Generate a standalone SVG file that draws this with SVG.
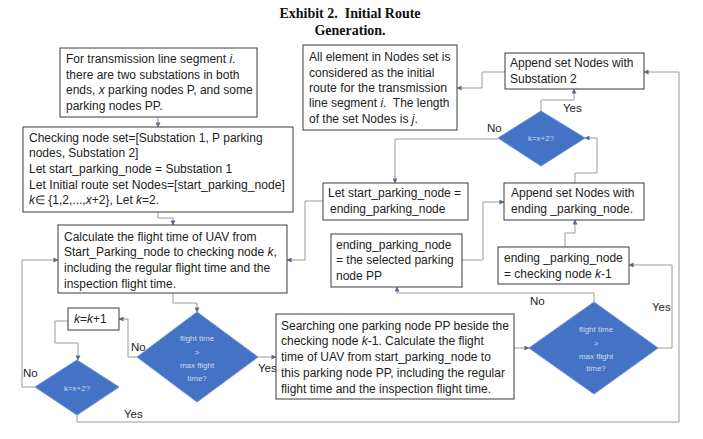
<svg xmlns="http://www.w3.org/2000/svg" width="703" height="439" viewBox="0 0 703 439">
<defs>
<marker id="ah" viewBox="0 0 6 6" refX="5.5" refY="3" markerWidth="5" markerHeight="5" orient="auto" markerUnits="userSpaceOnUse">
<path d="M0,0 L6,3 L0,6 z" fill="#5a6a8a"/>
</marker>
<style>
.box{fill:#fff;stroke:#3a3a3a;stroke-width:1}
.dia{fill:#4472c4;stroke:#6a8fd6;stroke-width:1}
.t{font-family:"Liberation Sans",Arial,sans-serif;font-size:12px;fill:#222}
.dt{font-family:"Liberation Sans",Arial,sans-serif;font-size:8px;fill:#cdd9f3;text-anchor:middle}
.lb{font-family:"Liberation Sans",Arial,sans-serif;font-size:11.5px;fill:#222}
.c{fill:none;stroke:#9a9a9a;stroke-width:1;marker-end:url(#ah)}
.title{font-family:"Liberation Serif","Times New Roman",serif;font-size:14px;font-weight:bold;fill:#111;text-anchor:middle}
</style>
</defs>
<rect width="703" height="439" fill="#fff"/>
<g id="title">
<text class="title" x="350" y="18">Exhibit 2.&#160; Initial Route</text>
<text class="title" x="350" y="35">Generation.</text>
</g>
<g id="connectors">
<path class="c" d="M158,117 V127"/>
<path class="c" d="M158,212 V218 H173 V225"/>
<path class="c" d="M173,293 V303 H197 V312"/>
<path class="c" d="M258,357 H276"/>
<path class="c" d="M137,357 H128 V319 H119"/>
<path class="c" d="M68,321 H55 V343 H78 V360"/>
<path class="c" d="M35,387 H22 V260 H58"/>
<path class="c" d="M77,415 V422 H679 V72 H644"/>
<path class="c" d="M514,348 H529"/>
<path class="c" d="M594,302 V293 H397 V287"/>
<path class="c" d="M658,348 H672 V265 H629"/>
<path class="c" d="M565,247 V233 H575 V220"/>
<path class="c" d="M462,260 H483 V202 H504"/>
<path class="c" d="M575,183 V173 H597 V138 H585"/>
<path class="c" d="M541,111 V100 H574 V89"/>
<path class="c" d="M498,139 H395 V183"/>
<path class="c" d="M505,72 H482 V88 H457"/>
<path class="c" d="M323,201 H305 V260 H287"/>
</g>
<g id="labels">
<text class="lb" x="487" y="132">No</text>
<text class="lb" x="563" y="112">Yes</text>
<text class="lb" x="131" y="351">No</text>
<text class="lb" x="23" y="377">No</text>
<text class="lb" x="124" y="418">Yes</text>
<text class="lb" x="258" y="372">Yes</text>
<text class="lb" x="530" y="305">No</text>
<text class="lb" x="652" y="311">Yes</text>
</g>
<g id="nodeA">
<rect class="box" x="60" y="48" width="197" height="69"/>
<text class="t" x="66" y="63">For transmission line segment <tspan font-style="italic">i</tspan>.</text>
<text class="t" x="66" y="79">there are two substations in both</text>
<text class="t" x="66" y="94">ends, <tspan font-style="italic">x</tspan> parking nodes P, and some</text>
<text class="t" x="66" y="110">parking nodes PP.</text>
</g>
<g id="nodeB">
<rect class="box" x="23" y="127" width="270" height="85"/>
<text class="t" x="29" y="142">Checking node set=[Substation 1, P parking</text>
<text class="t" x="29" y="157">nodes, Substation 2]</text>
<text class="t" x="29" y="173">Let start_parking_node = Substation 1</text>
<text class="t" x="29" y="189" textLength="256" lengthAdjust="spacingAndGlyphs">Let Initial route set Nodes=[start_parking_node]</text>
<text class="t" x="29" y="204"><tspan font-style="italic">k</tspan>∈ {1,2,...,<tspan font-style="italic">x</tspan>+2}, Let <tspan font-style="italic">k</tspan>=2.</text>
</g>
<g id="nodeC">
<rect class="box" x="303" y="45" width="154" height="85"/>
<text class="t" x="309" y="61">All element in Nodes set is</text>
<text class="t" x="309" y="77">considered as the initial</text>
<text class="t" x="309" y="92" textLength="138" lengthAdjust="spacingAndGlyphs">route for the transmission</text>
<text class="t" x="309" y="107">line segment <tspan font-style="italic">i</tspan>.&#160; The length</text>
<text class="t" x="309" y="123">of the set Nodes is <tspan font-style="italic">j</tspan>.</text>
</g>
<g id="nodeD">
<rect class="box" x="505" y="53" width="139" height="36"/>
<text class="t" x="510" y="67">Append set Nodes with</text>
<text class="t" x="510" y="83">Substation 2</text>
</g>
<g id="nodeE">
<polygon class="dia" points="541,111 585,138 541,166 498,138"/>
<text class="dt" x="541" y="141">k=x+2?</text>
</g>
<g id="nodeF">
<rect class="box" x="323" y="183" width="145" height="37"/>
<text class="t" x="328" y="197">Let start_parking_node =</text>
<text class="t" x="330" y="213">ending_parking_node</text>
</g>
<g id="nodeG">
<rect class="box" x="504" y="183" width="140" height="37"/>
<text class="t" x="511" y="197">Append set Nodes with</text>
<text class="t" x="511" y="213">ending _parking_node.</text>
</g>
<g id="nodeH">
<rect class="box" x="331" y="234" width="131" height="53"/>
<text class="t" x="336" y="249">ending_parking_node</text>
<text class="t" x="336" y="264">= the selected parking</text>
<text class="t" x="336" y="280">node PP</text>
</g>
<g id="nodeI">
<rect class="box" x="498" y="247" width="131" height="37"/>
<text class="t" x="504" y="262">ending _parking_node</text>
<text class="t" x="504" y="278">= checking node <tspan font-style="italic">k</tspan>-1</text>
</g>
<g id="nodeJ">
<rect class="box" x="58" y="225" width="229" height="68"/>
<text class="t" x="64" y="241">Calculate the flight time of UAV from</text>
<text class="t" x="64" y="256">Start_Parking_node to checking node <tspan font-style="italic">k</tspan>,</text>
<text class="t" x="64" y="272">including the regular flight time and the</text>
<text class="t" x="64" y="288">inspection flight time.</text>
</g>
<g id="nodeK">
<rect class="box" x="68" y="308" width="51" height="22"/>
<text class="t" x="74" y="323"><tspan font-style="italic">k</tspan>=<tspan font-style="italic">k</tspan>+1</text>
</g>
<g id="nodeL">
<polygon class="dia" points="77,360 119,387 77,415 35,387"/>
<text class="dt" x="77" y="391">k=x+2?</text>
</g>
<g id="nodeM">
<polygon class="dia" points="197,312 258,357 197,402 137,357"/>
<text class="dt" x="197" y="341">flight time</text>
<text class="dt" x="197" y="355">&gt;</text>
<text class="dt" x="197" y="368">max flight</text>
<text class="dt" x="197" y="381">time?</text>
</g>
<g id="nodeN">
<rect class="box" x="276" y="314" width="238" height="85"/>
<text class="t" x="281" y="330">Searching one parking node PP beside the</text>
<text class="t" x="281" y="345">checking node <tspan font-style="italic">k</tspan>-1. Calculate the flight</text>
<text class="t" x="281" y="361">time of UAV from start_parking_node to</text>
<text class="t" x="281" y="377">this parking node PP, including the regular</text>
<text class="t" x="281" y="393">flight time and the inspection flight time.</text>
</g>
<g id="nodeO">
<polygon class="dia" points="594,302 658,348 594,394 529,348"/>
<text class="dt" x="596" y="332">flight time</text>
<text class="dt" x="596" y="346">&gt;</text>
<text class="dt" x="596" y="359">max flight</text>
<text class="dt" x="596" y="371">time?</text>
</g>
</svg>
